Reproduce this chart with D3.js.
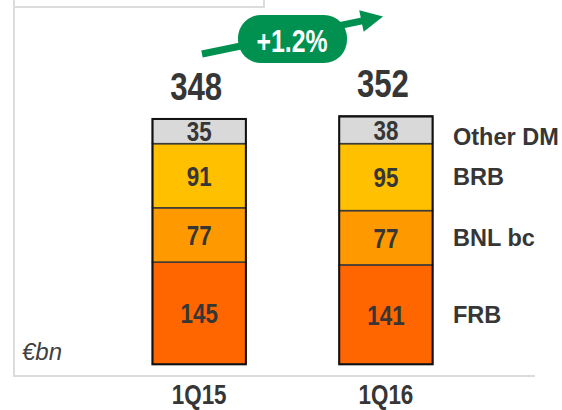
<!DOCTYPE html>
<html>
<head>
<meta charset="utf-8">
<script src="https://cdn.jsdelivr.net/npm/d3@7"></script>
<style>
  body { margin: 0; background: #fff; }
  svg { display: block; }
  text { font-family: "Liberation Sans", Arial, sans-serif; }
  .narrow { font-weight: bold; }
</style>
</head>
<body>
<div id="chart"></div>
<script>
// data
const quarters = ['1Q15', '1Q16'];
const segments = ['FRB', 'BNL bc', 'BRB', 'Other DM'];
const frb = [145, 141];
const bnl = [77, 77];
const brb = [91, 95];
const otherDm = [35, 38];
const totals = [348, 352];
const growthLabel = '+1.2%';
const unitLabel = '€bn';

const w = 562, h = 410;
const squeeze = 0.8; // condensed look for the numbers
const colors = { 'FRB': '#FF6600', 'BNL bc': '#FF9900', 'BRB': '#FFC000', 'Other DM': '#D9D9D9' };
const valuesBySegment = { 'FRB': frb, 'BNL bc': bnl, 'BRB': brb, 'Other DM': otherDm };

const rows = quarters.map((q, i) => {
	const r = { quarter: q };
	segments.forEach(s => r[s] = valuesBySegment[s][i]);
	return r;
});
const stacked = d3.stack().keys(segments)(rows);

const svg = d3.select('#chart').append('svg')
	.attr('width', w)
	.attr('height', h);

const x = d3.scaleBand().domain(quarters).range([105.8, 479.3]).paddingInner(0.5).paddingOuter(0.25);
const y = d3.scaleLinear().domain([0, 400]).range([364.3, 82.3]);
const cx = q => x(q) + x.bandwidth() / 2;
const place = (px, py) => `translate(${px},${py}) scale(${squeeze},1)`;

// frame lines (light grey)
const frame = svg.append('g').attr('stroke', '#DCDCDC').attr('stroke-width', 2).attr('fill', 'none');
frame.append('path').attr('d', 'M14,0 V376 H535');
frame.append('path').attr('d', 'M14,7 H264 V0');

// bar segments
const layers = svg.append('g').selectAll('g')
	.data(stacked)
	.join('g')
	.attr('fill', d => colors[d.key]);

layers.selectAll('rect')
	.data(d => d)
	.join('rect')
	.attr('x', d => x(d.data.quarter))
	.attr('y', d => y(d[1]))
	.attr('width', x.bandwidth())
	.attr('height', d => y(d[0]) - y(d[1]))
	.attr('stroke', '#3a3a3a')
	.attr('stroke-width', 1.5);

// outer bar border
svg.append('g').selectAll('rect')
	.data(quarters)
	.join('rect')
	.attr('x', q => x(q))
	.attr('y', (q, i) => y(totals[i]))
	.attr('width', x.bandwidth())
	.attr('height', (q, i) => y(0) - y(totals[i]))
	.attr('fill', 'none')
	.attr('stroke', '#111')
	.attr('stroke-width', 2);

// segment values
layers.selectAll('text')
	.data(d => d)
	.join('text')
	.attr('class', 'narrow')
	.attr('transform', d => place(cx(d.data.quarter), (y(d[0]) + y(d[1])) / 2 + 10))
	.attr('text-anchor', 'middle')
	.attr('font-size', 28)
	.attr('fill', '#363636')
	.text(d => d[1] - d[0]);

// totals
svg.append('g').selectAll('text')
	.data(quarters)
	.join('text')
	.attr('class', 'narrow')
	.attr('transform', (q, i) => place(cx(q) - 3, y(totals[i]) - 19))
	.attr('text-anchor', 'middle')
	.attr('font-size', 39)
	.attr('fill', '#363636')
	.text((q, i) => totals[i]);

// category labels
svg.append('g').selectAll('text')
	.data(quarters)
	.join('text')
	.attr('class', 'narrow')
	.attr('transform', q => place(cx(q), 404))
	.attr('text-anchor', 'middle')
	.attr('font-size', 28)
	.attr('fill', '#363636')
	.text(q => q);

// legend labels next to second bar
const last = stacked.map(s => s[s.length - 1]);
svg.append('g').selectAll('text')
	.data(last)
	.join('text')
	.attr('x', 453)
	.attr('y', (d, i) => (y(d[0]) + y(d[1])) / 2 + 8 + (segments[i] === 'Other DM' ? 7 : 0))
	.attr('font-weight', 'bold')
	.attr('font-size', 23.5)
	.attr('fill', '#363636')
	.text((d, i) => segments[i]);

// unit label
svg.append('text')
	.attr('x', 22)
	.attr('y', 360)
	.attr('font-style', 'italic')
	.attr('font-size', 24)
	.attr('fill', '#404040')
	.text(unitLabel);

// growth arrow with pill
const green = '#00904F';
const x0 = 202, y0 = 54, x1 = 383, y1 = 16.5;
const ang = Math.atan2(y1 - y0, x1 - x0);
const headLen = 22, headHalf = 11;
const bx = x1 - headLen * Math.cos(ang), by = y1 - headLen * Math.sin(ang);
const arrow = svg.append('g');
arrow.append('line')
	.attr('x1', x0).attr('y1', y0)
	.attr('x2', bx + 2 * Math.cos(ang)).attr('y2', by + 2 * Math.sin(ang))
	.attr('stroke', green)
	.attr('stroke-width', 7);
arrow.append('path')
	.attr('d', d3.line()([
		[x1, y1],
		[bx + headHalf * Math.sin(ang), by - headHalf * Math.cos(ang)],
		[bx - headHalf * Math.sin(ang), by + headHalf * Math.cos(ang)]
	]) + 'Z')
	.attr('fill', green);
arrow.append('rect')
	.attr('x', 238).attr('y', 15)
	.attr('width', 109).attr('height', 48)
	.attr('rx', 23).attr('ry', 23)
	.attr('fill', green);
arrow.append('text')
	.attr('class', 'narrow')
	.attr('transform', place(292, 52))
	.attr('text-anchor', 'middle')
	.attr('font-size', 31)
	.attr('fill', '#fff')
	.text(growthLabel);
</script>
</body>
</html>
